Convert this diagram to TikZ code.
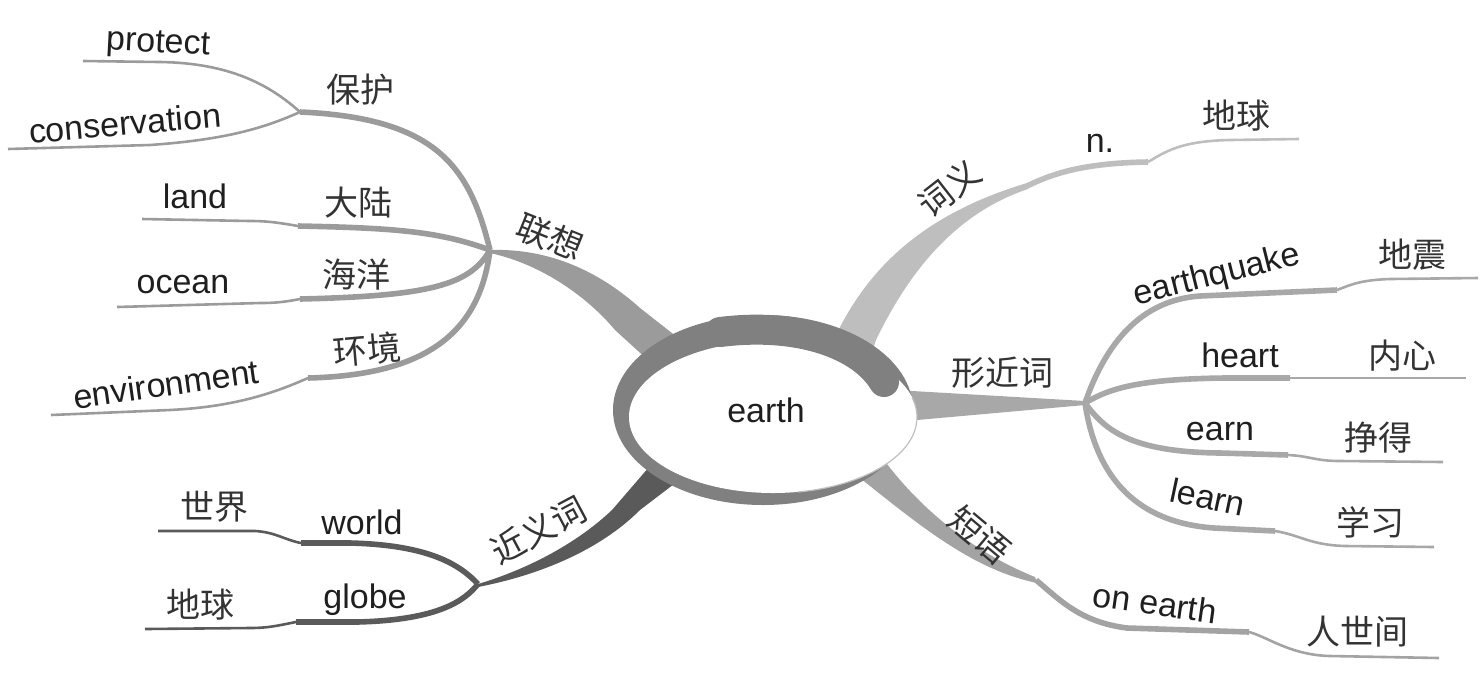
\documentclass[tikz,border=0pt]{standalone}
\usepackage{fontspec}
\setmainfont{Liberation Sans}
\newfontfamily\cjk{Noto Sans CJK SC}
\definecolor{ringgray}{RGB}{128,128,128}
\definecolor{lxgray}{RGB}{155,155,155}
\definecolor{cygray}{RGB}{190,190,190}
\definecolor{xjgray}{RGB}{168,168,168}
\definecolor{dygray}{RGB}{163,163,163}
\definecolor{jygray}{RGB}{90,90,90}

\begin{document}
\begin{tikzpicture}[x=0.5pt, y=-0.5pt,
    wd/.style={inner sep=0pt, text=black!88, font=\fontsize{17}{20}\selectfont},
    hz/.style={inner sep=0pt, text=black!80, font=\cjk\fontsize{17}{20}\selectfont},
    twig/.style={line width=2.8pt},
    leaf/.style={line width=1.3pt}]
    \useasboundingbox (0,0) rectangle (1484,698);
    % Verzweigungen
    \coordinate (lx) at (490,250);
    \coordinate (jb) at (300,112);
    \coordinate (cy) at (1027,186);
    \coordinate (xj) at (1085,403);
    \coordinate (dy) at (1036,580);
    \coordinate (jy) at (478,584);
    % breite Aeste (unter dem Ring)
    \fill[lxgray] (lx) .. controls (550,248) and (600,272) .. (640,308) -- (700,355) -- (672,382) -- (615,330) .. controls (590,300) and (545,265) .. (490,253) -- cycle;
    \fill[cygray] (830,360) -- (840,327) .. controls (870,270) and (920,215) .. (1027,183) -- (1028,189) .. controls (950,215) and (905,280) .. (876,340) -- (868,365) -- cycle;
    \fill[xjgray] (895,390) -- (1085,401) -- (xj) -- (1085,405) -- (895,422) -- cycle;
    \fill[dygray] (850,440) -- (884,460) .. controls (925,515) and (980,555) .. (1035,577) -- (1037,583) .. controls (975,570) and (925,530) .. (860,478) -- (835,460) -- cycle;
    \fill[jygray] (jy) .. controls (525,570) and (575,545) .. (612,510) -- (662,452) -- (695,468) -- (640,510) .. controls (600,550) and (540,575) .. (478,587) -- cycle;
    % Ring
    \fill[ringgray] (763,410) ellipse [x radius=75pt, y radius=47.5pt];
    \fill[white] (773,417) ellipse [x radius=72pt, y radius=38pt];
    \draw[black!25, line width=0.6pt] (798,492) arc[start angle=-80, end angle=15, x radius=72pt, y radius=38pt];
    \draw[ringgray, line width=15pt, line cap=round] (720,332) .. controls (800,322) and (862,345) .. (884,382);
    \node[wd] (earth) at (766,410) {earth};
    % linke Seite oben
    \draw[lxgray, twig] (lx) .. controls (470,170) and (440,118) .. (jb);
    \draw[lxgray, leaf] (jb) .. controls (270,85) and (230,63) .. (160,62) -- (83,61) coordinate (e-protect);
    \draw[lxgray, leaf] (jb) .. controls (260,130) and (220,140) .. (150,145) -- (8,149) coordinate (e-cons);
    \draw[lxgray, twig] (lx) .. controls (440,232) and (400,228) .. (298,226) coordinate (s-land);
    \draw[lxgray, leaf] (s-land) .. controls (275,222) and (265,221) .. (250,221) -- (142,219) coordinate (e-land);
    \draw[lxgray, twig] (lx) .. controls (470,285) and (430,296) .. (300,299) coordinate (s-ocean);
    \draw[lxgray, leaf] (s-ocean) .. controls (285,302) and (275,303) .. (260,303) -- (117,307) coordinate (e-ocean);
    \draw[lxgray, twig] (lx) .. controls (480,330) and (430,375) .. (308,378) coordinate (s-env);
    \draw[lxgray, leaf] (s-env) .. controls (270,395) and (230,407) .. (170,410) -- (51,415) coordinate (e-env);
    % rechte Seite oben
    \draw[cygray, twig] (cy) .. controls (1050,175) and (1080,163) .. (1148,162) coordinate (s-n);
    \draw[cygray, leaf] (s-n) .. controls (1165,152) and (1180,141) .. (1230,140) -- (1299,139) coordinate (e-n);
    % rechte Seite Mitte
    \draw[xjgray, twig] (xj) .. controls (1105,345) and (1140,300) .. (1200,296) -- (1337,290) coordinate (s-quake);
    \draw[xjgray, leaf] (s-quake) .. controls (1350,285) and (1360,280) .. (1390,279) -- (1478,278) coordinate (e-quake);
    \draw[xjgray, twig] (xj) .. controls (1110,388) and (1140,379) .. (1225,378) -- (1290,378) coordinate (s-heart);
    \draw[xjgray, leaf] (s-heart) -- (1466,378) coordinate (e-heart);
    \draw[xjgray, twig] (xj) .. controls (1105,430) and (1130,452) .. (1220,453) -- (1288,455) coordinate (s-earn);
    \draw[xjgray, leaf] (s-earn) .. controls (1310,456) and (1315,461) .. (1340,461) -- (1443,462) coordinate (e-earn);
    \draw[xjgray, twig] (xj) .. controls (1095,470) and (1130,522) .. (1214,528) -- (1275,531) coordinate (s-learn);
    \draw[xjgray, leaf] (s-learn) .. controls (1300,535) and (1310,545) .. (1345,546) -- (1434,547) coordinate (e-learn);
    % rechte Seite unten
    \draw[dygray, twig] (dy) .. controls (1060,600) and (1080,622) .. (1127,628) -- (1249,632) coordinate (s-onearth);
    \draw[dygray, leaf] (s-onearth) .. controls (1268,637) and (1290,655) .. (1330,656) -- (1439,658) coordinate (e-onearth);
    % linke Seite unten
    \draw[jygray, twig] (jy) .. controls (460,565) and (430,545) .. (350,543) -- (301,543) coordinate (s-world);
    \draw[jygray, leaf] (s-world) .. controls (285,540) and (275,532) .. (255,531) -- (158,531) coordinate (e-world);
    \draw[jygray, twig] (jy) .. controls (465,600) and (440,620) .. (357,622) -- (296,622) coordinate (s-globe);
    \draw[jygray, leaf] (s-globe) .. controls (280,625) and (270,628) .. (250,628) -- (145,629) coordinate (e-globe);
    % Beschriftung
    \node[hz, rotate=-22] (lianxiang) at (550,237) {联想};
    \node[hz] (baohu) at (360,90) {保护};
    \node[wd, rotate=-3] (protect) at (158,45) {protect};
    \node[wd, rotate=5] (conservation) at (125,123) {conservation};
    \node[wd] (land) at (195,196) {land};
    \node[hz] (dalu) at (358,203) {大陆};
    \node[wd] (ocean) at (183,285) {ocean};
    \node[hz] (haiyang) at (356,275) {海洋};
    \node[hz, rotate=5] (huanjing) at (367,350) {环境};
    \node[wd, rotate=8] (environment) at (166,384) {environment};
    \node[hz, rotate=38] (ciyi) at (949,188) {词义};
    \node[wd] (noun) at (1100,143) {n.};
    \node[hz] (diqiu) at (1236,116) {地球};
    \node[hz] (xingjinci) at (1002,373) {形近词};
    \node[wd, rotate=14] (earthquake) at (1217,276) {earthquake};
    \node[hz] (dizhen) at (1412,255) {地震};
    \node[wd] (heart) at (1240,355) {heart};
    \node[hz] (neixin) at (1402,356) {内心};
    \node[wd] (earn) at (1220,432) {earn};
    \node[hz] (zhengde) at (1378,438) {挣得};
    \node[wd, rotate=-12] (learn) at (1208,497) {learn};
    \node[hz] (xuexi) at (1370,522) {学习};
    \node[hz, rotate=-40] (duanyu) at (980,535) {短语};
    \node[wd, rotate=-8] (onearth) at (1155,603) {on earth};
    \node[hz] (renshijian) at (1357,632) {人世间};
    \node[hz, rotate=28] (jinyici) at (538,530) {近义词};
    \node[hz] (shijie) at (214,507) {世界};
    \node[wd] (world) at (362,522) {world};
    \node[hz] (diqiu2) at (200,605) {地球};
    \node[wd] (globe) at (365,600) {globe};
\end{tikzpicture}
\end{document}
